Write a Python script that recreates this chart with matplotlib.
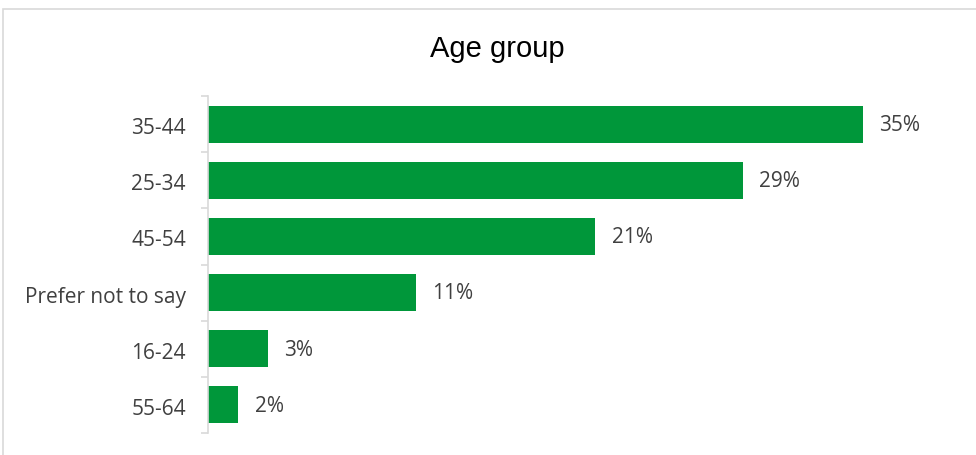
import matplotlib
matplotlib.use("Agg")
import matplotlib.pyplot as plt
from matplotlib.patches import Rectangle
from matplotlib.transforms import ScaledTranslation
import numpy as np

# ------------------------------------------------------------------
# Data
# ------------------------------------------------------------------
categories = ["35-44", "25-34", "45-54", "Prefer not to say", "16-24", "55-64"]
shares = [35.0, 28.6, 20.7, 11.1, 3.2, 1.6]

BAR_COLOR = "#00973a"
GRID_GREY = "#d9d9d9"
TEXT_GREY = "#404040"
LABEL_FONT = "Open Sans"

fig = plt.figure(figsize=(9.76, 4.55), dpi=100)

# light frame around the chart area (right/bottom run off the image)
fig.patches.append(Rectangle((3 / 976, -0.2), 1.2, 1.2 - 9 / 455,
                             transform=fig.transFigure, fill=False,
                             edgecolor=GRID_GREY, linewidth=1.2))

ax = fig.add_axes([208 / 976, 22 / 455, 748 / 976, 337 / 455])

y = np.arange(len(categories))
ax.barh(y, shares, height=0.66, color=BAR_COLOR)
ax.set_ylim(len(categories) - 0.5, -0.5)
ax.set_xlim(0, 40)

for yi, v in zip(y, shares):
    ax.annotate(f"{v:.0f}%", (v, yi), xytext=(12, -1), textcoords="offset points",
                ha="left", va="center", fontsize=15, color=TEXT_GREY, family=LABEL_FONT)

# category labels, ticks only at the boundaries
ax.set_yticks(y)
ax.set_yticklabels(categories, fontsize=15, color=TEXT_GREY, family=LABEL_FONT)
ax.tick_params(axis="y", which="major", length=0, pad=16)
shift = ScaledTranslation(0, -2 / 100, fig.dpi_scale_trans)
for lab in ax.get_yticklabels():
    lab.set_transform(lab.get_transform() + shift)
ax.set_yticks(np.arange(-0.5, len(categories), 1), minor=True)
ax.tick_params(axis="y", which="minor", length=5, color=GRID_GREY, width=1.2)
ax.set_xticks([])

for s in ["top", "right", "bottom"]:
    ax.spines[s].set_visible(False)
ax.spines["left"].set_color(GRID_GREY)
ax.spines["left"].set_linewidth(1.2)

fig.text(497 / 976, 1 - 49 / 455, "Age group", ha="center", va="center",
         fontsize=21, family="Liberation Sans", color="black")

fig.savefig("out.png", dpi=100)
